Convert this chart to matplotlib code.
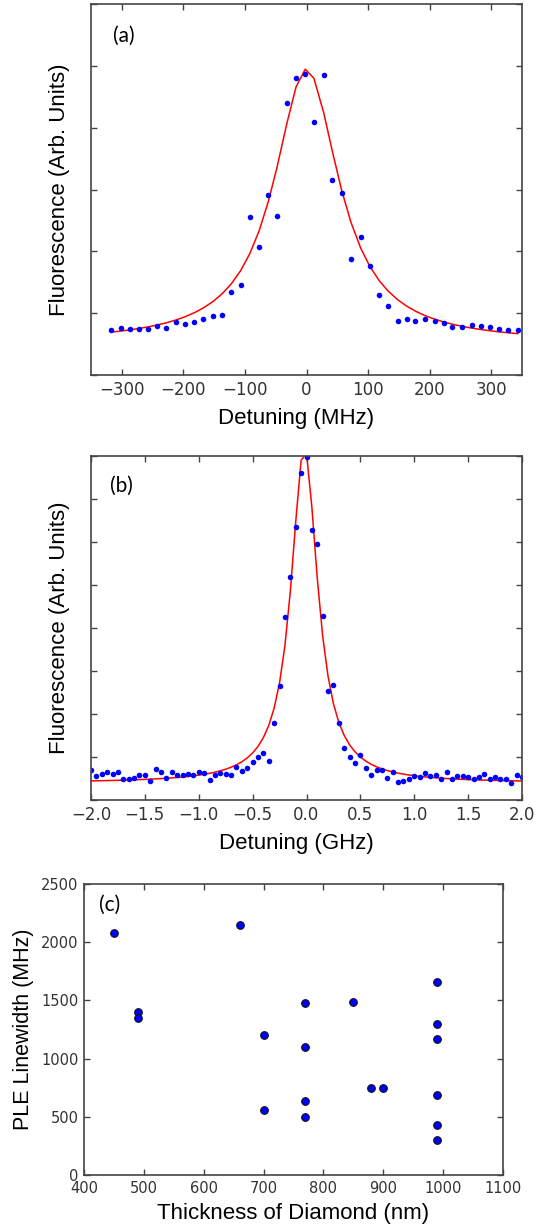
import numpy as np
import matplotlib
matplotlib.use("Agg")
import matplotlib.pyplot as plt


# (a) fluorescence vs detuning in MHz
det_a = [-317, -302, -287, -272, -257, -242, -228, -212, -197, -182, -168, -152, -137,
         -122, -107, -92, -77, -62, -48, -32, -17, -2, 12, 28, 42, 57, 72, 88, 103,
         118, 132, 148, 163, 177, 192, 208, 223, 237, 252, 268, 283, 298, 312, 328, 343]
fl_a = [0.72, 0.76, 0.74, 0.75, 0.75, 0.79, 0.76, 0.86, 0.83, 0.86,
        0.90, 0.96, 0.97, 1.34, 1.46, 2.55, 2.07, 2.91, 2.57, 4.40,
        4.80, 4.87, 4.09, 4.85, 3.16, 2.94, 1.87, 2.23, 1.77, 1.30,
        1.12, 0.88, 0.90, 0.88, 0.90, 0.87, 0.84, 0.78, 0.78, 0.81,
        0.79, 0.78, 0.74, 0.73, 0.73]
# lorentzian fit: centre, half width, amplitude, offset
fit_a = (0.0, 64.0, 4.43, 0.52)

# (b) fluorescence vs detuning in GHz
det_b = [-2.0, -1.95, -1.9, -1.85, -1.8, -1.75, -1.7, -1.65, -1.6, -1.55,
         -1.5, -1.45, -1.4, -1.35, -1.3, -1.25, -1.2, -1.15, -1.1, -1.05,
         -1.0, -0.95, -0.9, -0.85, -0.8, -0.75, -0.7, -0.65, -0.6, -0.55,
         -0.5, -0.45, -0.4, -0.35, -0.3, -0.25, -0.2, -0.15, -0.1, -0.05,
         0.0, 0.05, 0.1, 0.15, 0.2, 0.25, 0.3, 0.35, 0.4, 0.45,
         0.5, 0.55, 0.6, 0.65, 0.7, 0.75, 0.8, 0.85, 0.9, 0.95,
         1.0, 1.05, 1.1, 1.15, 1.2, 1.25, 1.3, 1.35, 1.4, 1.45,
         1.5, 1.55, 1.6, 1.65, 1.7, 1.75, 1.8, 1.85, 1.9, 1.95, 2.0]
fl_b = [0.70, 0.55, 0.60, 0.64, 0.60, 0.64, 0.50, 0.48, 0.52, 0.57,
        0.57, 0.44, 0.71, 0.64, 0.51, 0.64, 0.59, 0.59, 0.61, 0.58,
        0.64, 0.62, 0.47, 0.57, 0.62, 0.61, 0.58, 0.77, 0.67, 0.75,
        0.88, 0.99, 1.09, 0.90, 1.80, 2.66,
        4.26, 5.19, 6.34, 7.60, 7.98, 6.29, 5.95, 4.29,
        2.54, 2.68, 1.78, 1.22, 1.00, 0.85, 1.05, 0.74, 0.58, 0.70,
        0.70, 0.52, 0.65, 0.43, 0.44, 0.50, 0.56, 0.54, 0.63, 0.55,
        0.57, 0.50, 0.64, 0.49, 0.56, 0.56, 0.54, 0.50, 0.54, 0.61,
        0.50, 0.53, 0.48, 0.50, 0.40, 0.57, 0.53]
fit_b = (-0.02, 0.15, 7.8, 0.4)

# (c) linewidth vs diamond thickness
thick = [450, 490, 490, 660, 700, 700, 770, 770, 770, 770, 850, 880, 900,
         990, 990, 990, 990, 990, 990]
linewidth = [2080, 1400, 1350, 2150, 1200, 560, 1480, 1100, 635, 500, 1490, 750, 750,
             1660, 1300, 1170, 690, 430, 300]


def lorentz(x, p):
    x0, g, a, b = p
    x = np.asarray(x, dtype=float)
    return b + a / (1 + ((x - x0) / g) ** 2)


def style_axes(ax, size):
    for s in ax.spines.values():
        s.set_color('#444444')
        s.set_linewidth(1.2)
    ax.tick_params(direction='in', top=True, right=True, length=4.5, width=1,
                   color='#444444', labelcolor='#333333', labelsize=size, pad=4)
    for lab in ax.get_xticklabels() + ax.get_yticklabels():
        lab.set_family('DejaVu Sans')


W, H = 543, 1230
fig = plt.figure(figsize=(W / 100, H / 100), dpi=100)
lab_font = 'Liberation Sans'

# panel a
ax1 = fig.add_axes([91 / W, 1 - 375 / H, 431 / W, 371 / H])
ax1.plot(det_a, lorentz(det_a, fit_a), color='#ff0000', lw=1.1)
ax1.plot(det_a, fl_a, 'o', color='#0000ff', ms=4, mec='none')
ax1.set_xlim(-350, 350)
ax1.set_ylim(0, 6)
ax1.set_xticks(range(-300, 301, 100))
ax1.set_yticks(range(0, 7))
ax1.set_yticklabels([])
style_axes(ax1, 12)
ax1.set_ylabel('Fluorescence (Arb. Units)', family=lab_font, fontsize=16, va='center')
ax1.yaxis.set_label_coords(-0.074, 0.5)
ax1.set_xlabel('Detuning (MHz)', family=lab_font, fontsize=16, va='center')
ax1.xaxis.set_label_coords(0.476, -0.118)

# panel b
ax2 = fig.add_axes([91 / W, 1 - 800 / H, 431 / W, 344 / H])
ax2.plot(det_b, lorentz(det_b, fit_b), color='#ff0000', lw=1.1)
ax2.plot(det_b, fl_b, 'o', color='#0000ff', ms=4, mec='none')
ax2.set_xlim(-2, 2)
ax2.set_ylim(0, 8)
ax2.set_xticks(np.arange(-2, 2.01, 0.5))
ax2.set_xticklabels(['\u2212%.1f' % -v if v < 0 else '%.1f' % v
                     for v in np.arange(-2, 2.01, 0.5)])
ax2.set_yticks(range(0, 9))
ax2.set_yticklabels([])
style_axes(ax2, 12)
ax2.set_ylabel('Fluorescence (Arb. Units)', family=lab_font, fontsize=16, va='center')
ax2.yaxis.set_label_coords(-0.072, 0.5)
ax2.set_xlabel('Detuning (GHz)', family=lab_font, fontsize=16, va='center')
ax2.xaxis.set_label_coords(0.476, -0.125)

# panel c
ax3 = fig.add_axes([84 / W, 1 - 1175 / H, 419 / W, 291 / H])
ax3.plot(thick, linewidth, 'o', color='#0000ff', ms=5.5, mec='#111111', mew=0.8)
ax3.set_xlim(400, 1100)
ax3.set_ylim(0, 2500)
ax3.set_xticks(range(400, 1101, 100))
ax3.set_yticks(range(0, 2501, 500))
style_axes(ax3, 10.5)
ax3.set_ylabel('PLE Linewidth (MHz)', family=lab_font, fontsize=15.5, va='center')
ax3.yaxis.set_label_coords(-0.145, 0.5)
ax3.set_xlabel('Thickness of Diamond (nm)', family=lab_font, fontsize=16, va='center')
ax3.xaxis.set_label_coords(0.5, -0.134)

# panel tags
for txt, px, py in [('(a)', 124, 36), ('(b)', 121, 486), ('(c)', 110, 905)]:
    fig.text(px / W, 1 - py / H, txt, family='Lato', fontsize=15,
             ha='center', va='center')

fig.savefig('out.png', dpi=100)
